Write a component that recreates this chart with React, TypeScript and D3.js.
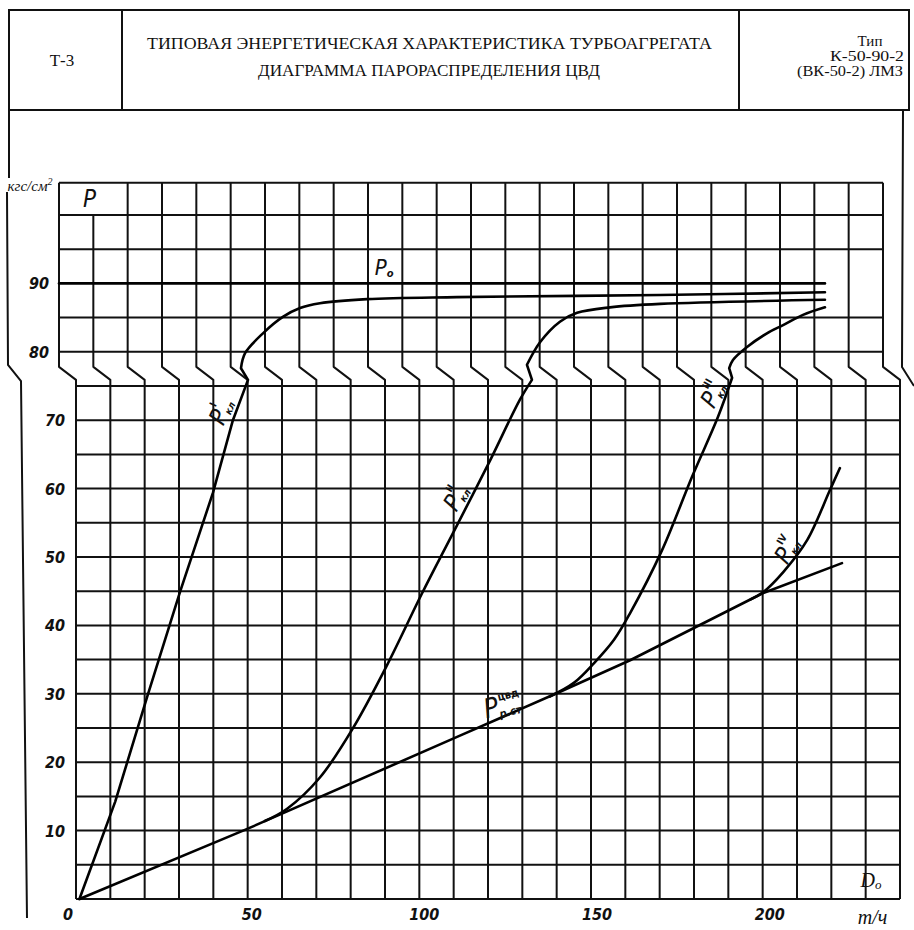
import React from 'react';
import * as d3 from 'd3';

type Pt = [number, number]; // [D, t/h ; P, kgf/cm2]

const W = 914;
const H = 930;

// axis labels
const xTickLabels = [0, 50, 100, 150, 200];
const yTicksLower = [10, 20, 30, 40, 50, 60, 70];
const yTicksUpper = [80, 90];

// grid steps
const gridD = d3.range(0, 241, 10);
const gridPLower = d3.range(0, 76, 5);
const gridPUpper = [80, 85, 95, 100];
const pTop = 104.7;
const breakLow = 75.9; // below this the lower sheet is used
const breakHigh = 77.8; // above this the upper (shifted) sheet

// regulating stage pressure P_р.ст (straight line)
const regStage: Pt[] = [
  [1, 0], [49.2, 10.1], [111, 23.7], [141, 30.3], [161.4, 34.9], [200, 44.7], [223.1, 49.1],
];

// pressure behind valve 1
const valve1Low: Pt[] = [
  [1, 0], [11.4, 14.2], [20.7, 29.5], [30.3, 44.9], [39.9, 59.4], [45.7, 70], [50.1, 75.9],
];
const valve1Up: Pt[] = [
  [53.0, 77.6], [54.2, 79.8], [59.4, 82.7], [65.2, 85.1], [70.2, 86.4], [76.0, 87.1],
  [89.7, 87.7], [115.9, 88.0], [175.1, 88.3], [223.1, 88.7],
];

// valve 2
const valve2Low: Pt[] = [
  [55, 11.4], [61.5, 13.2], [71.1, 17.8], [80.7, 25.0], [90.6, 34.2], [100.8, 44.7],
  [109.8, 53.5], [120, 63.5], [129.3, 73.0], [132.8, 75.9],
];
const valve2Up: Pt[] = [
  [136.3, 78.1], [140.1, 81.4], [145.9, 84.4], [150.9, 85.7], [160.5, 86.5], [175.1, 87.0], [223.1, 87.6],
];

// valve 3
const valve3Low: Pt[] = [
  [138, 29.6], [145, 31.6], [150.9, 34.5], [156.7, 37.9], [161.4, 41.8], [170.7, 51.0],
  [179.4, 61.7], [187, 70.5], [191.1, 76.2],
];
const valve3Up: Pt[] = [
  [195.2, 77.6], [196.3, 78.8], [200.4, 80.7], [206.2, 82.7], [210.9, 83.9], [216.7, 85.4], [223.1, 86.5],
];

// valve 4
const valve4: Pt[] = [
  [196.5, 43.8], [200, 44.8], [206, 47.8], [213, 52.5], [219.6, 59.8], [222.5, 63.0],
];

// nominal initial pressure
const p0Line: Pt[] = [[0, 90], [223.1, 90]];

const xLow = d3.scaleLinear().domain([0, 240]).range([76, 900]);
const xUp = d3.scaleLinear().domain([0, 240]).range([59, 883]);
const y = d3.scaleLinear().domain([0, 100]).range([899, 215]);

const smooth = d3.curveCatmullRom.alpha(0.5);
const lineLow = d3.line<Pt>().x(d => xLow(d[0])).y(d => y(d[1])).curve(smooth);
const lineUp = d3.line<Pt>().x(d => xUp(d[0])).y(d => y(d[1])).curve(smooth);
const straightLow = d3.line<Pt>().x(d => xLow(d[0])).y(d => y(d[1]));

// lower part, the jog across the break, then upper part
const joined = (low: Pt[], up: Pt[], lowLine = lineLow) =>
  (lowLine(low) || '') + (lineUp(up) || '').replace(/^M/, 'L');

const hand = "'DejaVu Sans Condensed', 'DejaVu Sans', sans-serif";
const typed = "'Liberation Serif', serif";
const script = "'Liberation Serif', serif";

function ValveLabel({ x, y, angle, sup, sub }: { x: number; y: number; angle: number; sup: string; sub: string }) {
  return (
    <g transform={`translate(${x},${y}) rotate(${angle})`} fill="#111">
      <text x={-14} y={9} fontFamily={hand} fontStyle="italic" fontSize={24}>P</text>
      <text x={0} y={-6} fontFamily={hand} fontWeight="bold" fontSize={10}>{sup}</text>
      <text x={-1} y={11} fontFamily={hand} fontWeight="bold" fontStyle="italic" fontSize={10}>{sub}</text>
    </g>
  );
}

export default function App() {
  const yHi = y(breakHigh);
  const yLo = y(breakLow);

  const vLines = gridD.map(d => {
    const top = d === 10 ? y(100) : y(pTop);
    return `M${xUp(d)},${top}V${yHi}L${xLow(d)},${yLo}V${y(0)}`;
  });

  return (
    <svg width={W} height={H} style={{ position: 'absolute', left: 0, top: 0, background: '#fff' }}>
      <rect x={0} y={0} width={W} height={H} fill="#fff" />

      {/* title block */}
      <g stroke="#111" strokeWidth={2} fill="none">
        <rect x={9} y={10} width={900} height={100} />
        <line x1={122} y1={10} x2={122} y2={110} />
        <line x1={739} y1={10} x2={739} y2={110} />
        <path d="M9,110V178" />
        <path d="M7,192L8,365L21,381L27,918" />
        <path d="M903,110L902,367L914,386" />
      </g>
      <g fontFamily={typed} fill="#111" fontSize={17}>
        <text x={62} y={66} textAnchor="middle" fontSize={17}>Т-3</text>
        <text x={147} y={49} textLength={565} lengthAdjust="spacingAndGlyphs">ТИПОВАЯ ЭНЕРГЕТИЧЕСКАЯ ХАРАКТЕРИСТИКА ТУРБОАГРЕГАТА</text>
        <text x={258} y={76} textLength={342} lengthAdjust="spacingAndGlyphs">ДИАГРАММА ПАРОРАСПРЕДЕЛЕНИЯ ЦВД</text>
        <text x={870} y={46} textAnchor="middle" fontSize={15}>Тип</text>
        <text x={830} y={61} textLength={74} lengthAdjust="spacingAndGlyphs" fontSize={15}>К-50-90-2</text>
        <text x={797} y={76} textLength={106} lengthAdjust="spacingAndGlyphs" fontSize={15}>(ВК-50-2) ЛМЗ</text>
      </g>

      {/* grid */}
      <g stroke="#111" strokeWidth={2} fill="none" strokeLinejoin="round">
        {vLines.map((d, i) => <path key={'v' + i} d={d} />)}
        {gridPLower.map(p => (
          <line key={'hl' + p} x1={xLow(0)} x2={xLow(240)} y1={y(p)} y2={y(p)} />
        ))}
        {gridPUpper.map(p => (
          <line key={'hu' + p} x1={xUp(0)} x2={xUp(240)} y1={y(p)} y2={y(p)} />
        ))}
        <line x1={xUp(0)} x2={xUp(240)} y1={y(pTop)} y2={y(pTop)} />
      </g>

      {/* curves */}
      <g stroke="#000" strokeWidth={2.6} fill="none" strokeLinejoin="round" strokeLinecap="round">
        <path d={straightLow(regStage) || ''} />
        <path d={joined(valve1Low, valve1Up, straightLow)} />
        <path d={joined(valve2Low, valve2Up)} />
        <path d={joined(valve3Low, valve3Up)} />
        <path d={lineLow(valve4) || ''} />
        <path d={lineUp(p0Line) || ''} />
      </g>

      {/* axis labels */}
      <g fontFamily={hand} fontStyle="italic" fontWeight="bold" fontSize={16} fill="#111" textAnchor="middle">
        {yTicksLower.map(p => (
          <text key={'yl' + p} x={xLow(0) - 21} y={y(p) + 6}>{p}</text>
        ))}
        {yTicksUpper.map(p => (
          <text key={'yu' + p} x={xUp(0) - 20} y={y(p) + 6}>{p}</text>
        ))}
        {xTickLabels.map(d => (
          <text key={'x' + d} x={d === 0 ? xLow(0) - 8 : xLow(d) + 3 + d * 0.02} y={y(0) + 21}>{d}</text>
        ))}
      </g>

      <text x={30} y={191} textAnchor="middle" fontFamily={script} fontStyle="italic" fontSize={15} fill="#111">
        кгс/см<tspan dy={-6} fontSize={10}>2</tspan>
      </text>
      <text x={83} y={207} fontFamily={hand} fontStyle="italic" fontSize={24} fill="#111">P</text>

      <text x={xLow(228.5)} y={y(1.7)} fontFamily={script} fontStyle="italic" fontSize={20} fill="#111">
        D<tspan fontSize={13} dy={2}>o</tspan>
      </text>
      <text x={xLow(232)} y={y(0) + 25} textAnchor="middle" fontFamily={script} fontStyle="italic" fontSize={20} fill="#111">т/ч</text>

      {/* curve labels */}
      <text x={xUp(92)} y={y(91.2)} fontFamily={hand} fontStyle="italic" fontSize={22} fill="#111">
        P<tspan fontSize={11} dy={2} fontWeight="bold">o</tspan>
      </text>
      <ValveLabel x={xLow(42.2)} y={y(71.5)} angle={-65} sup="I" sub="кл" />
      <ValveLabel x={xLow(110.7)} y={y(58.9)} angle={-58} sup="II" sub="кл" />
      <ValveLabel x={xLow(185.5)} y={y(74.0)} angle={-60} sup="III" sub="кл" />
      <ValveLabel x={xLow(207.1)} y={y(51.2)} angle={-58} sup="IV" sub="кл" />
      <g transform={`translate(${xLow(119.5)},${y(26.4)}) rotate(-14)`}>
        <text x={0} y={0} fontFamily={hand} fontStyle="italic" fontSize={27} fill="#111">P</text>
        <text x={16} y={-14} fontFamily={hand} fontWeight="bold" fontSize={11} fill="#111">цвд</text>
        <text x={14} y={3} fontFamily={hand} fontWeight="bold" fontStyle="italic" fontSize={11} fill="#111">р.ст</text>
      </g>
    </svg>
  );
}
